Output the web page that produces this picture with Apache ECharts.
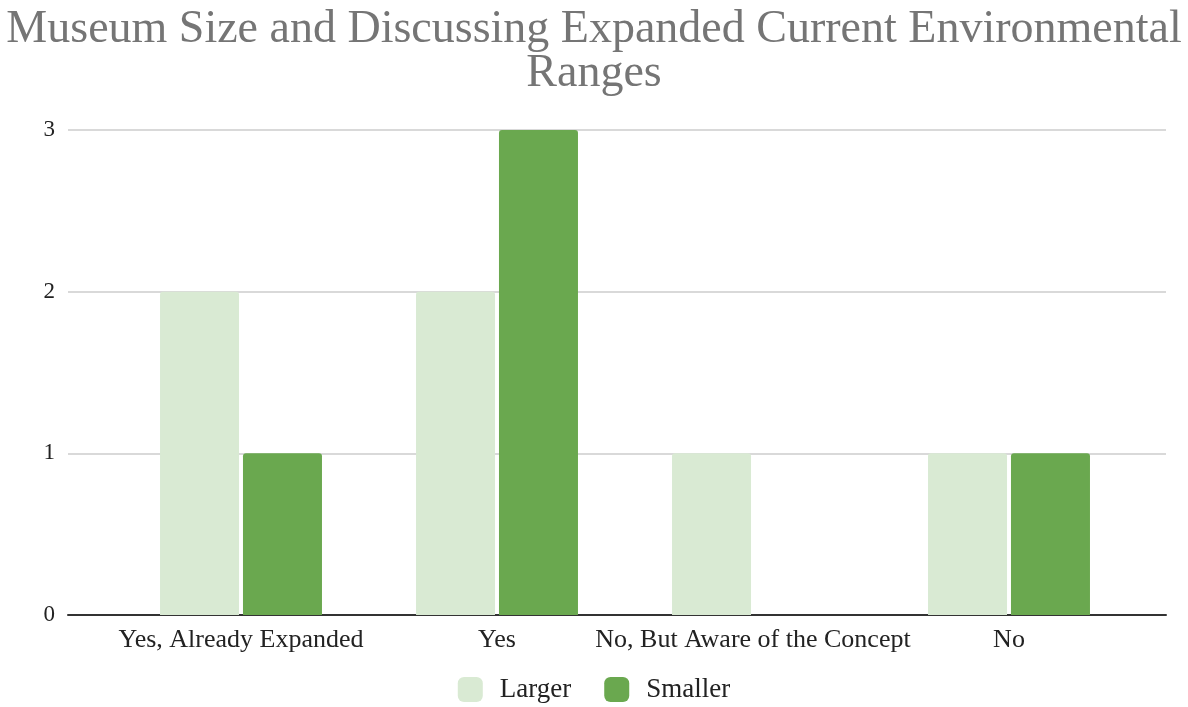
<!DOCTYPE html>
<html>
<head>
<meta charset="utf-8">
<script src="https://cdn.jsdelivr.net/npm/echarts@6/dist/echarts.min.js"></script>
<style>
  html, body { margin: 0; padding: 0; background: #fff; }
  #chart { width: 1188px; height: 707px; }
</style>
</head>
<body>
<div id="chart"></div>
<script>
// Responses grouped by museum size
const categories = ['Yes, Already Expanded', 'Yes', 'No, But Aware of the Concept', 'No'];
const largerValues = [2, 2, 1, 1];
const smallerValues = [1, 3, 0, 1];
const yTicks = [0, 1, 2, 3];

const SERIF = 'Liberation Serif, DejaVu Serif, serif';

const chart = echarts.init(document.getElementById('chart'));
chart.setOption({
  animation: false,
  title: {
    text: 'Museum Size and Discussing Expanded Current Environmental\nRanges',
    left: 'center',
    top: 3,
    textStyle: {
      fontFamily: SERIF,
      fontSize: 46,
      fontWeight: 'normal',
      color: '#757575',
      lineHeight: 44
    }
  },
  legend: {
    bottom: 4,
    left: 'center',
    padding: 0,
    itemWidth: 25,
    itemHeight: 25,
    itemGap: 33,
    icon: 'roundRect',
    textStyle: { fontFamily: SERIF, fontSize: 27, color: '#222', padding: [0, 0, 0, 12] },
    data: ['Larger', 'Smaller']
  },
  grid: [
    // frame grid: gridlines and baseline across the full plot width
    { left: 68, right: 22, top: 130, bottom: 92 },
    // bar grid: categories laid out over the inner band
    { left: 113, right: 51, top: 130, bottom: 92 }
  ],
  xAxis: [
    {
      gridIndex: 0, type: 'category', data: categories,
      axisLine: { show: true, lineStyle: { color: '#333', width: 2 } },
      axisTick: { show: false }, axisLabel: { show: false }, splitLine: { show: false }
    },
    {
      gridIndex: 1, type: 'category', data: categories,
      axisLine: { show: false }, axisTick: { show: false },
      axisLabel: { fontFamily: SERIF, fontSize: 26, color: '#222', margin: 12, interval: 0 }
    }
  ],
  yAxis: [
    {
      gridIndex: 0, type: 'value', min: yTicks[0], max: yTicks[yTicks.length - 1], interval: 1,
      axisLine: { show: false }, axisTick: { show: false },
      axisLabel: { fontFamily: SERIF, fontSize: 23, color: '#222', margin: 13 },
      splitLine: { lineStyle: { color: '#cccccc', width: 1.5 } }
    },
    {
      gridIndex: 1, type: 'value', min: yTicks[0], max: yTicks[yTicks.length - 1], interval: 1,
      show: false, splitLine: { show: false }
    }
  ],
  series: [
    {
      name: 'Larger', type: 'bar', xAxisIndex: 1, yAxisIndex: 1,
      data: largerValues, barWidth: 79, barGap: '5%',
      itemStyle: { color: '#d9ead3', borderRadius: [3, 3, 0, 0] }
    },
    {
      name: 'Smaller', type: 'bar', xAxisIndex: 1, yAxisIndex: 1,
      data: smallerValues, barWidth: 79, barGap: '5%',
      itemStyle: { color: '#6aa84f', borderRadius: [3, 3, 0, 0] }
    }
  ]
});
</script>
</body>
</html>
